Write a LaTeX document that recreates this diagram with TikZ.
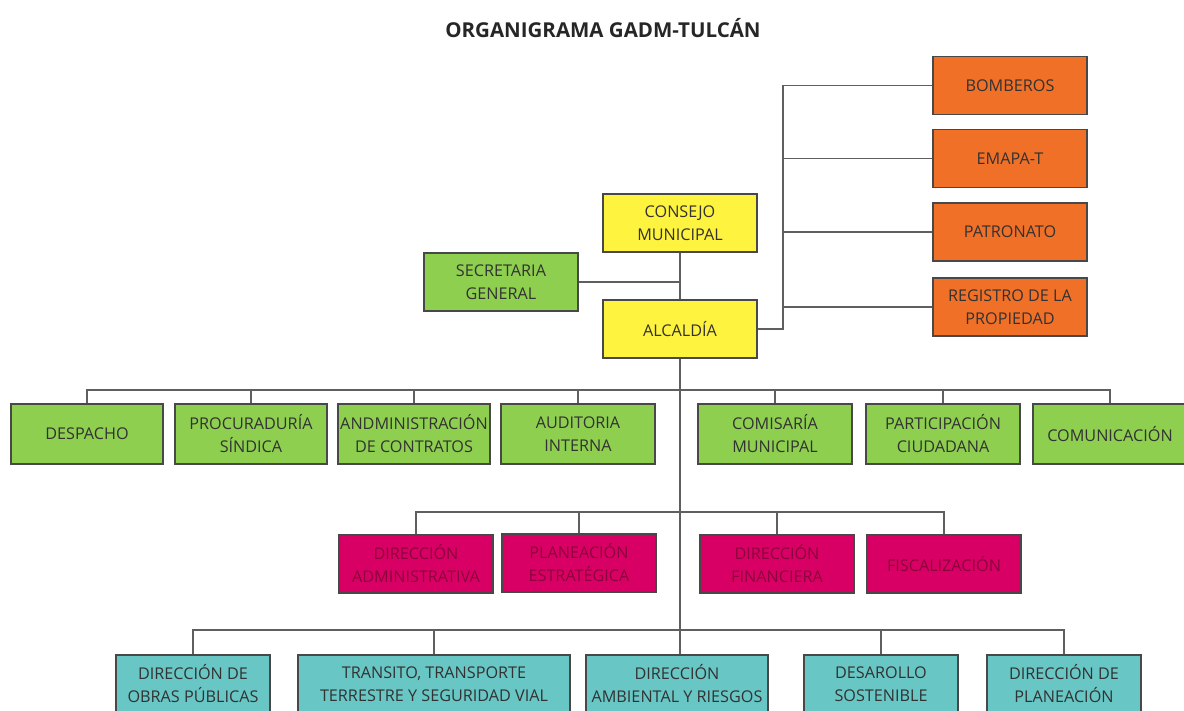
\documentclass[tikz,border=0pt]{standalone}
\usepackage{fontspec}
\setmainfont{Open Sans}
\usepackage{xcolor}
\usetikzlibrary{positioning, calc}
\definecolor{boxyellow}{RGB}{254,243,62}
\definecolor{boxgreen}{RGB}{142,207,80}
\definecolor{boxorange}{RGB}{240,112,40}
\definecolor{boxmagenta}{RGB}{216,0,100}
\definecolor{boxteal}{RGB}{104,198,196}
\definecolor{boxedge}{RGB}{72,72,72}
\definecolor{boxtext}{RGB}{50,50,50}
\definecolor{magtext}{RGB}{140,0,60}
\definecolor{linegray}{RGB}{95,95,95}
\tikzset{
  unit/.style={rectangle, minimum width=154pt, minimum height=58pt, align=center, draw=boxedge, line width=1.3pt, inner sep=1pt, text=boxtext, font=\fontsize{16.2}{23}\selectfont},
  unitY/.style={unit, fill=boxyellow},
  unitG/.style={unit, fill=boxgreen},
  unitO/.style={unit, fill=boxorange},
  unitP/.style={unit, fill=boxmagenta, text=magtext},
  unitT/.style={unit, fill=boxteal},
  link/.style={draw=linegray, line width=1.2pt},
}

\begin{document}
\begin{tikzpicture}[x=1pt, y=-1pt]
\useasboundingbox (0,0) rectangle (1184,711);
\node (title) at (603,28) [font=\bfseries\fontsize{20.5}{24}\selectfont, text=black!85] {ORGANIGRAMA GADM-TULCÁN};
% top of the chart
\node (consejo) [unitY] at (680,223) {CONSEJO\\MUNICIPAL};
\node (alcaldia) [unitY] at (680,329) {ALCALDÍA};
\node (secretaria) [unitG] at (501,282) {SECRETARIA\\GENERAL};
% attached entities
\node (bomberos) [unitO] at (1010,85.5) {BOMBEROS};
\node (emapa) [unitO] at (1010,158.5) {EMAPA-T};
\node (patronato) [unitO] at (1010,232) {PATRONATO};
\node (registro) [unitO] at (1010,307) {REGISTRO DE LA\\PROPIEDAD};
% advisory units
\node (despacho) [unitG, minimum width=152pt, minimum height=60pt] at (87,434) {DESPACHO};
\node (procuraduria) [unitG, minimum width=152pt, minimum height=60pt] at (251,434) {PROCURADURÍA\\SÍNDICA};
\node (contratos) [unitG, minimum width=152pt, minimum height=60pt] at (414,434) {ANDMINISTRACIÓN\\DE CONTRATOS};
\node (auditoria) [unitG, minimum height=60pt] at (578,434) {AUDITORIA\\INTERNA};
\node (comisaria) [unitG, minimum height=60pt] at (775,434) {COMISARÍA\\MUNICIPAL};
\node (participacion) [unitG, minimum height=60pt] at (943,434) {PARTICIPACIÓN\\CIUDADANA};
\node (comunicacion) [unitG, minimum height=60pt] at (1110,434) {COMUNICACIÓN};
% support units
\node (administrativa) [unitP] at (416,564) {DIRECCIÓN\\ADMINISTRATIVA};
\node (estrategica) [unitP] at (579,563) {PLANEACIÓN\\ESTRATÉGICA};
\node (financiera) [unitP] at (777,564) {DIRECCIÓN\\FINANCIERA};
\node (fiscalizacion) [unitP] at (944,564) {FISCALIZACIÓN};
% operative units
\node (obras) [unitT] at (193,684) {DIRECCIÓN DE\\OBRAS PÚBLICAS};
\node (transito) [unitT, minimum width=272pt] at (434,684) {TRANSITO, TRANSPORTE\\TERRESTRE Y SEGURIDAD VIAL};
\node (ambiental) [unitT, minimum width=182pt] at (677,684) {DIRECCIÓN\\AMBIENTAL Y RIESGOS};
\node (desarrollo) [unitT] at (881,684) {DESAROLLO\\SOSTENIBLE};
\node (planeacion) [unitT] at (1064,684) {DIRECCIÓN DE\\PLANEACIÓN};
% buses
\coordinate (obus) at (783,0);
\coordinate (gbus) at (0,390);
\coordinate (pbus) at (0,512);
\coordinate (tbus) at (0,630);
% connectors
\draw[link] (consejo) -- (alcaldia);
\draw[link] (secretaria.east) -- (secretaria.east -| consejo.south);
\draw[link] (alcaldia.east) -- (alcaldia.east -| obus) |- (bomberos.west);
\foreach \n in {emapa, patronato, registro}
  \draw[link] (\n.west -| obus) -- (\n.west);
\draw[link] (alcaldia.south) -- (alcaldia.south |- ambiental.north);
\draw[link] (despacho.north) |- (comunicacion.north |- gbus) -- (comunicacion.north);
\foreach \n in {procuraduria, contratos, auditoria, comisaria, participacion}
  \draw[link] (\n.north |- gbus) -- (\n.north);
\draw[link] (administrativa.north) |- (fiscalizacion.north |- pbus) -- (fiscalizacion.north);
\foreach \n in {estrategica, financiera}
  \draw[link] (\n.north |- pbus) -- (\n.north);
\draw[link] (obras.north) |- (planeacion.north |- tbus) -- (planeacion.north);
\foreach \n in {transito, desarrollo}
  \draw[link] (\n.north |- tbus) -- (\n.north);
\end{tikzpicture}
\end{document}
